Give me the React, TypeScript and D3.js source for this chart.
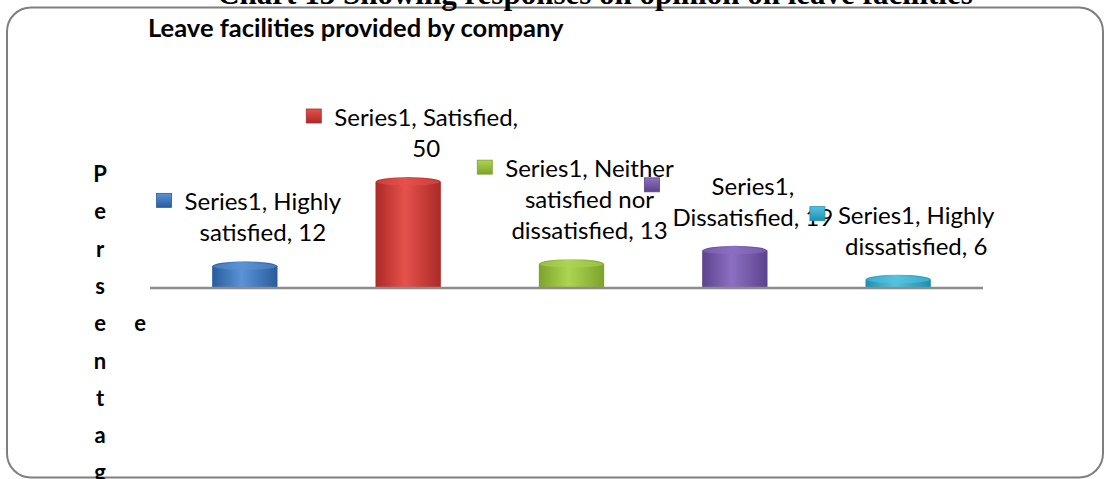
import React, { useEffect, useRef } from "react";
import * as d3 from "d3";

const categories = [
  "Highly satisfied",
  "Satisfied",
  "Neither satisfied nor dissatisfied",
  "Dissatisfied",
  "Highly dissatisfied",
];
const values = [12, 50, 13, 19, 6];
const labelLines = [
  ["Series1, Highly", "satisfied, 12"],
  ["Series1, Satisfied,", "50"],
  ["Series1, Neither", "satisfied nor", "dissatisfied, 13"],
  ["Series1,", "Dissatisfied, 19"],
  ["Series1, Highly", "dissatisfied, 6"],
];
const barColors = [
  ["#285c9c", "#5b93d6"],
  ["#ab2a27", "#e6514c"],
  ["#7ea22c", "#add552"],
  ["#5c438d", "#8d70c2"],
  ["#1d8fae", "#55c3e0"],
];
const pageTitle = "Chart 13 Showing responses on opinion on leave facilities";
const chartTitle = "Leave facilities provided by company";
const yTitle = "Persentage";

const W = 1104, H = 479;
const LABEL_FONT = "Lato, 'Noto Sans', sans-serif";

const App: React.FC = (): JSX.Element => {
  const ref = useRef<SVGSVGElement>(null);

  useEffect(() => {
    const svg = d3.select(ref.current);
    svg.selectAll("*").remove();

    const x = d3.scaleBand<string>()
      .domain(categories)
      .range([155, 988])
      .paddingInner(0.6)
      .paddingOuter(0.35);
    const y = d3.scaleLinear()
      .domain([0, d3.max(values) || 50])
      .range([288, 177]);

    const defs = svg.append("defs");
    barColors.forEach((c, i) => {
      const g = defs.append("linearGradient")
        .attr("id", "body" + i)
        .attr("x1", "0").attr("x2", "1").attr("y1", "0").attr("y2", "0");
      g.append("stop").attr("offset", "0").attr("stop-color", c[0]);
      g.append("stop").attr("offset", "0.45").attr("stop-color", c[1]);
      g.append("stop").attr("offset", "1").attr("stop-color", c[0]);
      const k = defs.append("linearGradient")
        .attr("id", "key" + i)
        .attr("x1", "0").attr("x2", "0").attr("y1", "0").attr("y2", "1");
      k.append("stop").attr("offset", "0").attr("stop-color", c[1]);
      k.append("stop").attr("offset", "1").attr("stop-color", c[0]);
    });

    // outer frame
    svg.append("rect")
      .attr("x", 7).attr("y", 7.5)
      .attr("width", 1096).attr("height", 470)
      .attr("rx", 24).attr("ry", 24)
      .attr("fill", "none")
      .attr("stroke", "#7f7f7f")
      .attr("stroke-width", 2);

    svg.append("text")
      .attr("x", 595).attr("y", 4)
      .attr("text-anchor", "middle")
      .style("font-family", "'Liberation Serif', 'Times New Roman', serif")
      .style("font-weight", "bold")
      .style("font-size", "31px")
      .text(pageTitle);

    svg.append("text")
      .attr("x", 148).attr("y", 37)
      .style("font-family", LABEL_FONT)
      .style("font-weight", "bold")
      .style("font-size", "25.5px")
      .text(chartTitle);

    // stacked vertical axis title
    const rows = 9;
    const letters = yTitle.split("");
    letters.forEach((ch, i) => {
      const col = Math.floor(i / rows);
      const rest = letters.length - col * rows;
      const row = col === 0 ? i : (i - col * rows) + Math.floor((rows - Math.min(rest, rows)) / 2);
      svg.append("text")
        .attr("x", 100 + col * 40)
        .attr("y", 182 + row * 37.3)
        .attr("text-anchor", "middle")
        .style("font-family", LABEL_FONT)
        .style("font-weight", "bold")
        .style("font-size", "22px")
        .text(ch);
    });

    // cylinders
    const ry = 5;
    const bars = svg.append("g");
    values.forEach((v, i) => {
      const x0 = x(categories[i]) || 0;
      const w = x.bandwidth();
      const top = y(v);
      bars.append("path")
        .attr("d", `M${x0},${y(0)} L${x0},${top + ry} A${w / 2},${ry} 0 0 1 ${x0 + w},${top + ry} L${x0 + w},${y(0)} Z`)
        .attr("fill", `url(#body${i})`);
      bars.append("ellipse")
        .attr("cx", x0 + w / 2).attr("cy", top + ry)
        .attr("rx", w / 2 - 1).attr("ry", ry - 1.5)
        .attr("fill", barColors[i][1])
        .attr("opacity", 0.55);
    });

    svg.append("line")
      .attr("x1", 150).attr("x2", 983)
      .attr("y1", y(0)).attr("y2", y(0))
      .attr("stroke", "#8c8c8c")
      .attr("stroke-width", 2.5);

    // data labels with legend keys
    values.forEach((v, i) => {
      const cx = (x(categories[i]) || 0) + x.bandwidth() / 2 + 18;
      const lines = labelLines[i];
      const lastBase = y(v) - 20;
      const g = svg.append("g");
      const t = g.append("text")
        .attr("text-anchor", "middle")
        .style("font-family", LABEL_FONT)
        .style("font-size", "24px")
        .attr("fill", "#000");
      lines.forEach((ln, j) => {
        t.append("tspan")
          .attr("x", cx)
          .attr("y", lastBase - (lines.length - 1 - j) * 31)
          .text(ln);
      });
      const bb = (t.node() as SVGTextElement).getBBox();
      const firstBase = lastBase - (lines.length - 1) * 31;
      g.append("rect")
        .attr("x", bb.x - 28).attr("y", firstBase - 17)
        .attr("width", 15).attr("height", 14)
        .attr("fill", `url(#key${i})`)
        .attr("stroke", barColors[i][0])
        .attr("stroke-width", 0.8);
    });
  });

  return (
    <div style={{ position: "absolute", left: 0, top: 0 }}>
      <svg ref={ref} width={W} height={H} style={{ display: "block", background: "#fff" }}></svg>
    </div>
  );
};

export default App;
